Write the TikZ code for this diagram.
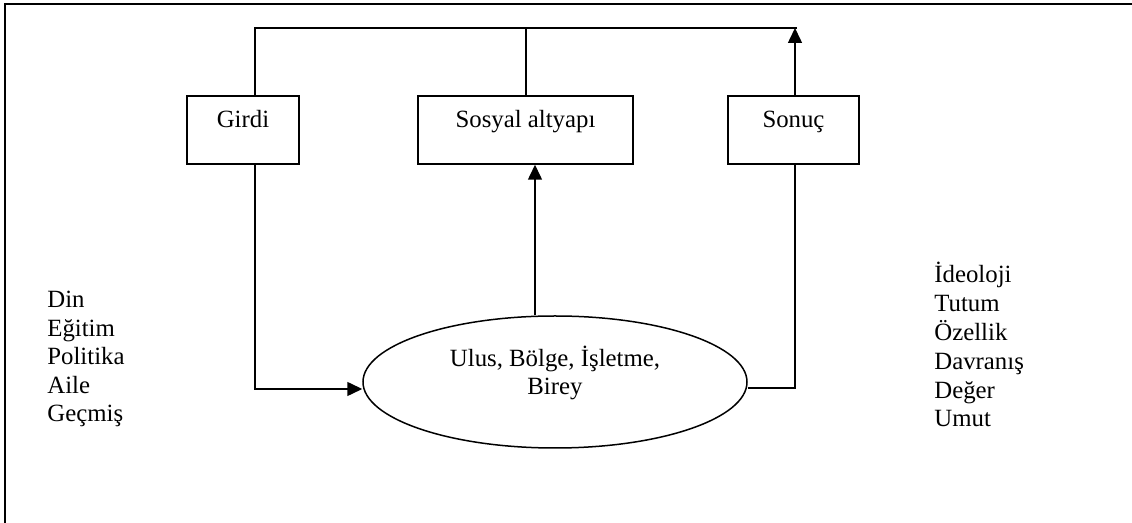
\documentclass[tikz,border=0pt]{standalone}
\usepackage{fontspec}
\setmainfont{Liberation Serif}
\usetikzlibrary{shapes.geometric,arrows.meta}

\begin{document}
\begin{tikzpicture}[x=0.5pt, y=-0.5pt, >={Triangle[length=7.5pt,width=7pt]},
    font=\fontsize{12.4}{14.2}\selectfont,
    hat/.style={line width=0.75pt},
    kutu/.style={draw, hat, inner xsep=0pt, inner ysep=0pt,
        text height=16pt, text depth=18pt},
    liste/.style={anchor=base west, inner sep=0pt}]

    \useasboundingbox (0,0) rectangle (1132,523);

    % frame
    \draw[line width=1pt] (5,523) -- (5,4) -- (1132,4);

    % boxes
    \node[kutu, minimum width=56pt] (girdi) at (243,130) {Girdi};
    \node[kutu, minimum width=107.5pt] (sosyal) at (525.5,130) {Sosyal altyapı};
    \node[kutu, minimum width=65.5pt] (sonuc) at (793.5,130) {Sonuç};

    % ellipse
    \node[draw, hat, ellipse, minimum width=192pt, minimum height=66pt,
        inner sep=0pt] (ulus) at (555,382) {};
    \node[align=center, inner sep=0pt] (ulusyazi) at (555,373)
        {Ulus, Bölge, İşletme,\\Birey};

    % top line
    \coordinate (solust) at (255,28);
    \coordinate (ortaust) at (526,28);
    \coordinate (sagust) at (795,28);
    \coordinate (okx) at (535,0);
    \draw[hat] (girdi.north -| solust) -- (solust) -- ([xshift=1pt]sagust);
    \draw[hat] (sosyal.north -| ortaust) -- (ortaust);
    \draw[hat, ->] (sonuc.north -| sagust) -- (sagust);

    % loop through the ellipse
    \draw[hat, ->] (girdi.south -| solust) |- ([yshift=-3.5pt]ulus.west);
    \draw[hat] ([yshift=-3pt]ulus.east) -| (sonuc.south -| sagust);
    \draw[hat, ->] (ulus.north -| okx) -- (sosyal.south -| okx);

    % lists
    \foreach \word [count=\i] in {Din, Eğitim, Politika, Aile, Geçmiş}{
        \node[liste] (sol\i) at (47,{308+28.5*(\i-1)}) {\word};
    }
    \foreach \word [count=\i] in {İdeoloji, Tutum, Özellik, Davranış, Değer, Umut}{
        \node[liste] (sag\i) at (934,{283+28.8*(\i-1)}) {\word};
    }
\end{tikzpicture}
\end{document}
